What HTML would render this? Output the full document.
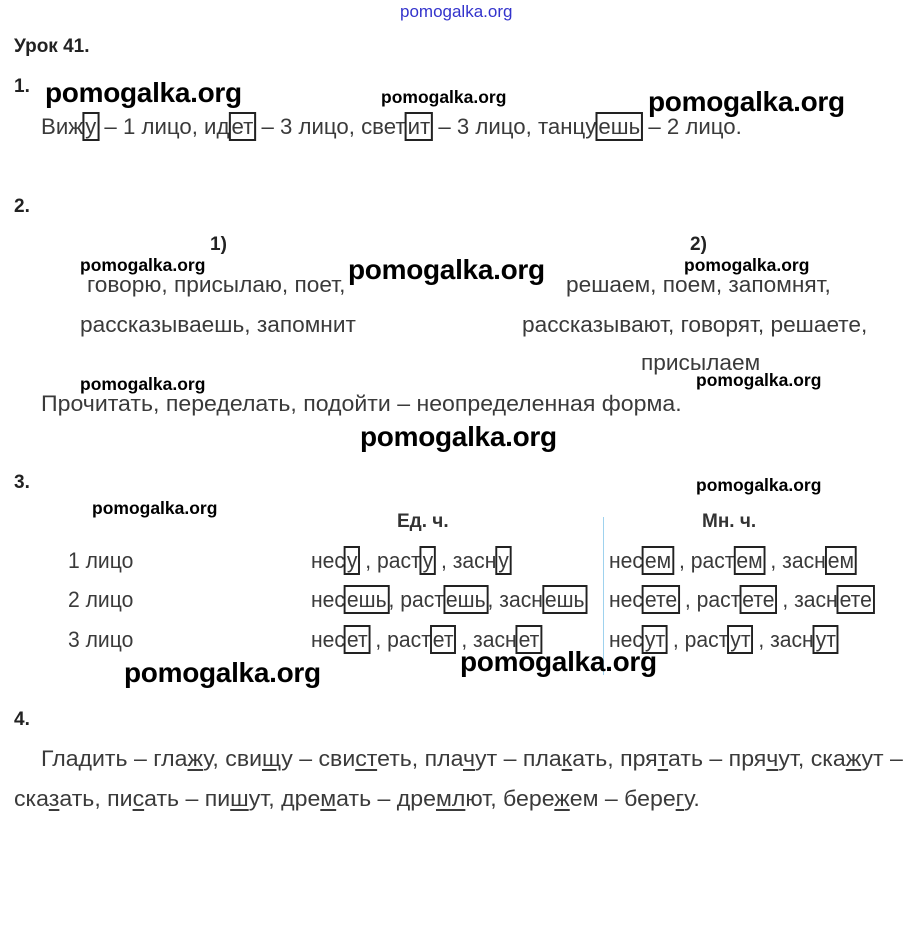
<!DOCTYPE html>
<html><head><meta charset="utf-8"><style>
body{margin:0;width:917px;height:926px;background:#fff;position:relative;overflow:hidden;font-family:"Liberation Sans",Arial,sans-serif;}
.a{position:absolute;white-space:nowrap;}
.t{font-size:22px;color:#3a3a3a;line-height:24px;transform:scaleX(1.03);transform-origin:left center;}
.tt{transform:scaleX(0.96);}
.b{font-weight:bold;color:#222;font-size:19px;}
.wb{font-weight:bold;color:#000;font-size:28px;line-height:30px;letter-spacing:-0.3px;}
.ws{font-weight:bold;color:#000;font-size:17.5px;line-height:18px;}
.bx{border:2px solid #222;padding:0 1px;margin:0 -1px;}
u{text-decoration-thickness:2px;text-underline-offset:3px;}
</style></head><body>
<div class="a" style="left:400px;top:2px;font-size:17px;color:#3333cc;">pomogalka.org</div>
<div class="a b" style="left:14px;top:36px;">Урок 41.</div>
<div class="a b" style="left:14px;top:76px;">1.</div>
<div class="a wb" style="left:45px;top:78px;">pomogalka.org</div>
<div class="a ws" style="left:381px;top:88px;">pomogalka.org</div>
<div class="a wb" style="left:648px;top:87px;">pomogalka.org</div>
<div class="a t" style="left:41px;top:115px;transform:scaleX(1.01);">Виж<span class="bx">у</span> – 1 лицо, ид<span class="bx">ет</span> – 3 лицо, свет<span class="bx">ит</span> – 3 лицо, танцу<span class="bx">ешь</span> – 2 лицо.</div>

<div class="a b" style="left:14px;top:196px;">2.</div>
<div class="a b" style="left:210px;top:234px;">1)</div>
<div class="a b" style="left:690px;top:234px;">2)</div>
<div class="a ws" style="left:80px;top:256px;">pomogalka.org</div>
<div class="a wb" style="left:348px;top:255px;">pomogalka.org</div>
<div class="a ws" style="left:684px;top:256px;">pomogalka.org</div>
<div class="a t" style="left:87px;top:273px;">говорю, присылаю, поет,</div>
<div class="a t" style="left:566px;top:273px;">решаем, поем, запомнят,</div>
<div class="a t" style="left:80px;top:313px;">рассказываешь, запомнит</div>
<div class="a t" style="left:522px;top:313px;">рассказывают, говорят, решаете,</div>
<div class="a t" style="left:641px;top:351px;">присылаем</div>
<div class="a ws" style="left:80px;top:375px;">pomogalka.org</div>
<div class="a ws" style="left:696px;top:371px;">pomogalka.org</div>
<div class="a t" style="left:41px;top:392px;transform:scaleX(1.05);">Прочитать, переделать, подойти – неопределенная форма.</div>
<div class="a wb" style="left:360px;top:422px;">pomogalka.org</div>

<div class="a b" style="left:14px;top:472px;">3.</div>
<div class="a ws" style="left:696px;top:476px;">pomogalka.org</div>
<div class="a ws" style="left:92px;top:499px;">pomogalka.org</div>
<div class="a b" style="left:397px;top:511px;color:#333;">Ед. ч.</div>
<div class="a b" style="left:702px;top:511px;color:#333;">Мн. ч.</div>
<div class="a" style="left:603px;top:517px;width:1px;height:158px;background:#9fd2ee;"></div>
<div class="a t tt" style="left:68px;top:549px;">1 лицо</div>
<div class="a t tt" style="left:68px;top:588px;">2 лицо</div>
<div class="a t tt" style="left:68px;top:628px;">3 лицо</div>
<div class="a t tt" style="left:311px;top:549px;">нес<span class="bx">у</span> , раст<span class="bx">у</span> , засн<span class="bx">у</span></div>
<div class="a t tt" style="left:311px;top:588px;">нес<span class="bx">ешь</span>, раст<span class="bx">ешь</span>, засн<span class="bx">ешь</span></div>
<div class="a t tt" style="left:311px;top:628px;">нес<span class="bx">ет</span> , раст<span class="bx">ет</span> , засн<span class="bx">ет</span></div>
<div class="a t tt" style="left:609px;top:549px;">нес<span class="bx">ем</span> , раст<span class="bx">ем</span> , засн<span class="bx">ем</span></div>
<div class="a t tt" style="left:609px;top:588px;">нес<span class="bx">ете</span> , раст<span class="bx">ете</span> , засн<span class="bx">ете</span></div>
<div class="a t tt" style="left:609px;top:628px;">нес<span class="bx">ут</span> , раст<span class="bx">ут</span> , засн<span class="bx">ут</span></div>
<div class="a wb" style="left:124px;top:658px;">pomogalka.org</div>
<div class="a wb" style="left:460px;top:647px;">pomogalka.org</div>

<div class="a b" style="left:14px;top:709px;">4.</div>
<div class="a t" style="left:41px;top:747px;transform:scaleX(1.05);">Гла<u>д</u>ить – гла<u>ж</u>у, сви<u>щ</u>у – сви<u>ст</u>еть, пла<u>ч</u>ут – пла<u>к</u>ать, пря<u>т</u>ать – пря<u>ч</u>ут, ска<u>ж</u>ут –</div>
<div class="a t" style="left:14px;top:787px;transform:scaleX(1.05);">ска<u>з</u>ать, пи<u>с</u>ать – пи<u>ш</u>ут, дре<u>м</u>ать – дре<u>мл</u>ют, бере<u>ж</u>ем – бере<u>г</u>у.</div>
</body></html>
